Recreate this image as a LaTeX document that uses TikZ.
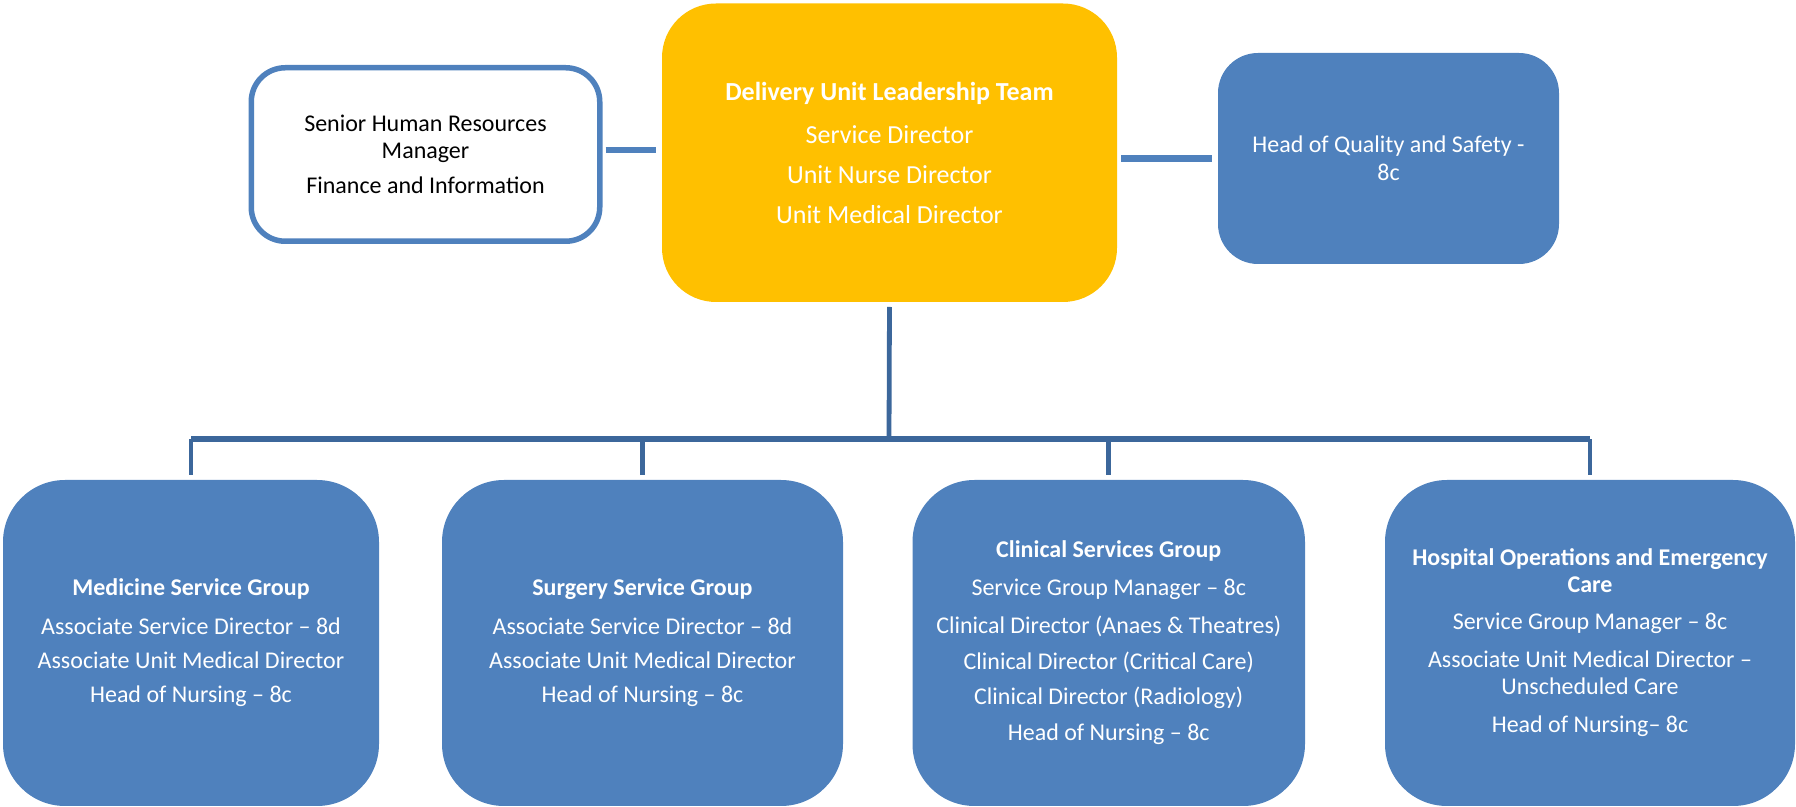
\documentclass[tikz,border=0pt]{standalone}
\usepackage{fontspec}
\setmainfont{Carlito}
\definecolor{boxblue}{HTML}{4F81BD}
\definecolor{gold}{HTML}{FFC000}
\definecolor{linkblue}{HTML}{3C679B}
\begin{document}
\begin{tikzpicture}[x=0.5pt,y=-0.5pt,
  base/.style={align=center, inner sep=0pt, outer sep=0pt},
  bluebox/.style={base, fill=boxblue, text=white},
  bottombox/.style={bluebox, minimum height=163pt, rounded corners=31pt,
    font=\fontsize{12}{13}\selectfont},
  sidelink/.style={draw=boxblue, line width=3.2pt},
  treelink/.style={draw=linkblue, line width=2.4pt},
  barlink/.style={draw=linkblue, line width=3pt}]
\useasboundingbox (0,0) rectangle (1796,807);

% top row
\node[base, draw=boxblue, line width=2.75pt, fill=white, text=black,
      minimum width=174.25pt, minimum height=86.75pt, rounded corners=17pt,
      font=\fontsize{12}{13.25}\selectfont] (hr) at (425.5,154.5)
  {Senior Human Resources\\Manager\\[4.5pt]Finance and Information};

\node[base, fill=gold, text=white, minimum width=227.5pt, minimum height=149.25pt,
      rounded corners=27pt, font=\fontsize{13}{20}\selectfont] (lead) at (889.5,152.75)
  {\textbf{Delivery Unit Leadership Team}\\[1.25pt]Service Director\\Unit Nurse Director\\Unit Medical Director};

\node[bluebox, minimum width=170.5pt, minimum height=105.5pt, rounded corners=20pt,
      font=\fontsize{12}{14}\selectfont] (qual) at (1388.5,158.5)
  {Head of Quality and Safety -\\8c};

% bottom row
\node[bottombox, minimum width=188pt] (med) at (191,643)
  {\textbf{Medicine Service Group}\\[6.5pt]Associate Service Director -- 8d\\[4pt]Associate Unit Medical Director\\[4pt]Head of Nursing -- 8c};

\node[bottombox, minimum width=200.5pt] (surg) at (642.5,643)
  {\textbf{Surgery Service Group}\\[6.5pt]Associate Service Director -- 8d\\[4pt]Associate Unit Medical Director\\[4pt]Head of Nursing -- 8c};

\node[bottombox, minimum width=196.25pt] (clin) at (1108.75,643)
  {\textbf{Clinical Services Group}\\[6pt]Service Group Manager -- 8c\\[6pt]Clinical Director (Anaes \& Theatres)\\[5pt]Clinical Director (Critical Care)\\[4.5pt]Clinical Director (Radiology)\\[5pt]Head of Nursing -- 8c};

\node[bottombox, minimum width=205pt] (hosp) at (1590,643)
  {\textbf{Hospital Operations and Emergency}\\[0.5pt]\textbf{Care}\\[5.5pt]Service Group Manager -- 8c\\[6pt]Associate Unit Medical Director --\\[0.5pt]Unscheduled Care\\[6pt]Head of Nursing-- 8c};

% side connectors
\draw[sidelink, shorten <=2.9pt, shorten >=3pt]
  ([yshift=2.25pt]hr.east) -- ([yshift=2.25pt]hr.east -| lead.west);
\draw[sidelink, shorten <=2pt, shorten >=3pt]
  (lead.east |- qual.west) -- (qual.west);

% tree connectors
\coordinate (j) at (889,439.5);
\draw[treelink, shorten <=2.5pt] (lead.south) -- (j);
\draw[barlink] (med.north |- j) -- (hosp.north |- j);
\foreach \b in {med,surg,clin,hosp}
  \draw[treelink, shorten >=2.5pt] (\b.north |- j) -- (\b.north);
\end{tikzpicture}
\end{document}
